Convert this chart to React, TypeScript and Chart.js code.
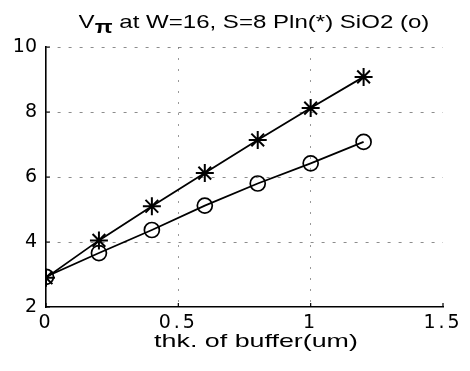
import React, { useEffect, useRef } from "react";
import { Chart, registerables } from "chart.js";

Chart.register(...registerables);

const thickness = [0, 0.2, 0.4, 0.6, 0.8, 1.0, 1.2];
const plnValues = [2.9, 4.05, 5.1, 6.12, 7.14, 8.12, 9.08];
const sio2Values = [2.93, 3.66, 4.37, 5.12, 5.8, 6.42, 7.08];
const xTicks = [0, 0.5, 1, 1.5];
const yTicks = [2, 4, 6, 8, 10];
const titleMain = "V";
const titleSub = "π";
const titleRest = " at W=16, S=8 Pln(*) SiO2 (o)";
const xTitle = "thk. of buffer(um)";

const innerTicks = {
  id: "innerTicks",
  afterDatasetsDraw(chart: any) {
    // x tick labels (drawn after datasets, z=1) are wider in the reference
    (chart.ctx as any).letterSpacing = "3px";
  },
  afterDraw(chart: any) {
    const { ctx, chartArea, scales } = chart;
    (ctx as any).letterSpacing = "0px";
    ctx.save();
    ctx.strokeStyle = "#000";
    ctx.lineWidth = 1.2;
    ctx.setLineDash([]);
    ctx.beginPath();
    for (const v of xTicks) {
      const x = scales.x.getPixelForValue(v);
      ctx.moveTo(x, chartArea.bottom);
      ctx.lineTo(x, chartArea.bottom - 4);
    }
    for (const v of yTicks) {
      const y = scales.y.getPixelForValue(v);
      ctx.moveTo(chartArea.left, y);
      ctx.lineTo(chartArea.left + 4, y);
    }
    ctx.stroke();
    ctx.restore();
  },
};

export default function App() {
  const ref = useRef<HTMLCanvasElement>(null);
  useEffect(() => {
    document.body.style.margin = "0";
    const chart = new Chart(ref.current!, {
      type: "line",
      data: {
        datasets: [
          {
            label: "Pln",
            data: thickness.map((x, i) => ({ x, y: plnValues[i] })),
            borderColor: "#000",
            borderWidth: 1.8,
            pointStyle: "star",
            pointRadius: 9,
            pointBorderWidth: 2,
            pointBorderColor: "#000",
            pointBackgroundColor: "transparent",
            fill: false,
          },
          {
            label: "SiO2",
            data: thickness.map((x, i) => ({ x, y: sio2Values[i] })),
            borderColor: "#000",
            borderWidth: 1.8,
            pointStyle: "circle",
            pointRadius: 7.5,
            pointBorderWidth: 1.7,
            pointBorderColor: "#000",
            pointBackgroundColor: "transparent",
            fill: false,
          },
        ],
      },
      options: {
        animation: false,
        responsive: false,
        maintainAspectRatio: false,
        layout: { padding: { left: 0, right: 27, top: 47, bottom: 0 } },
        plugins: { legend: { display: false }, tooltip: { enabled: false }, title: { display: false } },
        scales: {
          x: {
            type: "linear",
            min: 0,
            max: 1.5,
            afterBuildTicks: (s: any) => {
              s.ticks = xTicks.map((v) => ({ value: v }));
            },
            afterFit: (s: any) => {
              s.height = 64;
            },
            ticks: {
              z: 1,
              color: "#000",
              padding: 5,
              font: { family: "DejaVu Sans", size: 19 },
              maxRotation: 0,
              callback: (v: any) => String(v),
            },
            grid: {
              drawTicks: false,
              color: (c: any) =>
                c.tick && (c.tick.value === 0.5 || c.tick.value === 1) ? "rgba(0,0,0,0.4)" : "rgba(0,0,0,0)",
              lineWidth: 1,
            },
            border: { display: true, color: "#000", width: 1.6, dash: [2, 9] },
          },
          y: {
            type: "linear",
            min: 2,
            max: 10,
            afterBuildTicks: (s: any) => {
              s.ticks = yTicks.map((v) => ({ value: v }));
            },
            afterFit: (s: any) => {
              s.width = 46;
            },
            ticks: {
              color: "#000",
              padding: 9,
              font: { family: "DejaVu Sans", size: 19 },
              callback: (v: any) => String(v),
            },
            grid: {
              drawTicks: false,
              color: (c: any) => (c.tick && c.tick.value > 2 ? "rgba(0,0,0,0.45)" : "rgba(0,0,0,0)"),
              lineWidth: 1,
            },
            border: { display: true, color: "#000", width: 1.6, dash: [3, 8] },
          },
        },
      },
      plugins: [innerTicks],
    } as any);
    return () => chart.destroy();
  }, []);

  return (
    <div style={{ position: "relative", width: 470, height: 371, background: "#fff" }}>
      <canvas ref={ref} width={470} height={371} style={{ position: "absolute", left: 0, top: 0 }} />
      <div
        style={{
          position: "absolute",
          left: 254,
          top: 12,
          transform: "translateX(-50%) scaleX(1.3)",
          whiteSpace: "nowrap",
          fontFamily: "Liberation Sans, Arial, sans-serif",
          fontSize: 18.5,
          lineHeight: "20px",
          color: "#000",
        }}
      >
        {titleMain}
        <span style={{ fontWeight: "bold", fontSize: 18, position: "relative", top: 5 }}>{titleSub}</span>
        {titleRest}
      </div>
      <div
        style={{
          position: "absolute",
          left: 256,
          top: 331,
          transform: "translateX(-50%) scaleX(1.45)",
          whiteSpace: "nowrap",
          fontFamily: "Liberation Sans, Arial, sans-serif",
          fontSize: 18.5,
          lineHeight: "20px",
          color: "#000",
        }}
      >
        {xTitle}
      </div>
    </div>
  );
}
